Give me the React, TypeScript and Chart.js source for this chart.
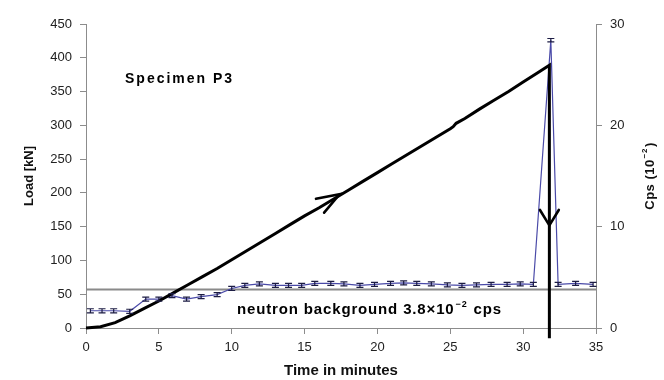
import { useEffect, useRef } from "react";
import { Chart, registerables } from "chart.js";

Chart.register(...registerables);

// ---- Data ----
const loadTime = [0, 1, 2, 3, 4, 5, 6, 7, 8, 9, 10, 11, 12, 13, 14, 15, 16, 17, 18, 19, 20, 21, 22, 23, 24, 25, 25.2, 25.4, 26, 27, 28, 29, 30, 31, 31.8, 31.8, 31.8];
const loadKN = [0, 2, 8, 18, 29, 40, 52, 64, 76, 88, 101, 114, 127, 140, 153, 166, 178, 191, 204, 217, 230, 243, 256, 269, 282, 295, 298, 303, 310, 324, 337, 350, 364, 378, 389, 0, -15];

const cpsTime = [0.3, 1.1, 1.9, 3.0, 4.1, 5.0, 5.9, 6.9, 7.9, 9.0, 10.0, 10.9, 11.9, 13.0, 13.9, 14.8, 15.7, 16.8, 17.7, 18.8, 19.8, 20.9, 21.8, 22.7, 23.7, 24.8, 25.8, 26.8, 27.8, 28.9, 29.8, 30.7, 31.9, 32.4, 33.6, 34.8];
const cpsValue = [1.7, 1.7, 1.7, 1.65, 2.85, 2.85, 3.2, 2.85, 3.1, 3.3, 3.9, 4.2, 4.35, 4.2, 4.2, 4.2, 4.4, 4.4, 4.35, 4.2, 4.3, 4.4, 4.45, 4.4, 4.35, 4.25, 4.2, 4.25, 4.3, 4.3, 4.35, 4.3, 28.4, 4.3, 4.4, 4.3];
const cpsError = [0.2, 0.2, 0.2, 0.2, 0.2, 0.2, 0.2, 0.2, 0.2, 0.2, 0.2, 0.2, 0.2, 0.2, 0.2, 0.2, 0.2, 0.2, 0.2, 0.2, 0.2, 0.2, 0.2, 0.2, 0.2, 0.2, 0.2, 0.2, 0.2, 0.2, 0.2, 0.2, 0.17, 0.2, 0.2, 0.2];

const backgroundCps = 3.8;
const backgroundSpan = [0, 35];

// arrow heads: [tailTime, tailLoad, tipTime, tipLoad]
const arrowUp = [16.3, 184, 17.4, 198];
const arrowDown = [31.8, 180, 31.8, 152];

const xTickValues = [0, 5, 10, 15, 20, 25, 30, 35];
const yTickValues = [0, 50, 100, 150, 200, 250, 300, 350, 400, 450];
const y2TickValues = [0, 10, 20, 30];

const FONT = '"Liberation Sans", Arial, sans-serif';

const overlayPlugin = {
  id: "overlay",
  afterDatasetsDraw(chart: any) {
    const { ctx, scales } = chart;
    const sx = scales.x, sy = scales.y, sy2 = scales.y2;
    ctx.save();
    // error bars
    ctx.strokeStyle = "#1c1c44";
    ctx.lineWidth = 1.2;
    cpsTime.forEach((t, i) => {
      const px = sx.getPixelForValue(t);
      const top = sy2.getPixelForValue(cpsValue[i] + cpsError[i]);
      const bot = sy2.getPixelForValue(cpsValue[i] - cpsError[i]);
      ctx.beginPath();
      ctx.moveTo(px, top);
      ctx.lineTo(px, bot);
      ctx.moveTo(px - 3.5, top);
      ctx.lineTo(px + 3.5, top);
      ctx.moveTo(px - 3.5, bot);
      ctx.lineTo(px + 3.5, bot);
      ctx.stroke();
    });
    // arrow heads
    ctx.strokeStyle = "#000";
    ctx.lineWidth = 2.6;
    ctx.lineCap = "round";
    const drawArrow = (a: number[], half: number, len: number) => {
      const x0 = sx.getPixelForValue(a[0]), y0 = sy.getPixelForValue(a[1]);
      const x1 = sx.getPixelForValue(a[2]), y1 = sy.getPixelForValue(a[3]);
      const ang = Math.atan2(y0 - y1, x0 - x1);
      ctx.beginPath();
      ctx.moveTo(x1 + len * Math.cos(ang - half), y1 + len * Math.sin(ang - half));
      ctx.lineTo(x1, y1);
      ctx.lineTo(x1 + len * Math.cos(ang + half), y1 + len * Math.sin(ang + half));
      ctx.stroke();
    };
    drawArrow(arrowUp, 0.34, 24);
    drawArrow(arrowDown, 0.55, 18);

    // texts
    ctx.fillStyle = "#000";
    ctx.textBaseline = "middle";
    ctx.textAlign = "left";
    ctx.font = `bold 14px ${FONT}`;
    (ctx as any).letterSpacing = "2px";
    ctx.fillText("Specimen P3", 125, 79);
    (ctx as any).letterSpacing = "0.85px";
    ctx.font = `bold 15px ${FONT}`;
    let x = 237;
    const yb = 310;
    const p1 = "neutron background 3.8\u00d710";
    ctx.fillText(p1, x, yb);
    x += ctx.measureText(p1).width;
    ctx.font = `bold 9px ${FONT}`;
    ctx.fillText("\u22122", x + 1, yb - 5);
    x += ctx.measureText("\u22122").width + 2;
    ctx.font = `bold 15px ${FONT}`;
    ctx.fillText(" cps", x, yb);

    // right axis title, reading bottom-to-top
    (ctx as any).letterSpacing = "0.5px";
    ctx.translate(650, 176);
    ctx.rotate(-Math.PI / 2);
    ctx.font = `bold 13px ${FONT}`;
    const t1 = "Cps (10";
    const t2 = "\u22122";
    const t3 = ")";
    ctx.font = `bold 13px ${FONT}`;
    const w1 = ctx.measureText(t1).width;
    const w3 = ctx.measureText(t3).width;
    ctx.font = `bold 8px ${FONT}`;
    const w2 = ctx.measureText(t2).width;
    let cx = -(w1 + w2 + w3 + 2) / 2;
    ctx.fillStyle = "#111";
    ctx.font = `bold 13px ${FONT}`;
    ctx.fillText(t1, cx, 0);
    cx += w1 + 1;
    ctx.font = `bold 8px ${FONT}`;
    ctx.fillText(t2, cx, -5);
    cx += w2 + 1;
    ctx.font = `bold 13px ${FONT}`;
    ctx.fillText(t3, cx, 0);
    ctx.restore();
  },
};

export default function App() {
  const ref = useRef<HTMLCanvasElement>(null);
  useEffect(() => {
    const canvas = ref.current;
    if (!canvas) return;
    const setTicks = (vals: number[]) => (scale: any) => {
      scale.ticks = vals.map((v) => ({ value: v }));
    };
    const chart = new Chart(canvas, {
      type: "scatter",
      data: {
        datasets: [
          {
            label: "Load",
            data: loadTime.map((t, i) => ({ x: t, y: loadKN[i] })),
            yAxisID: "y",
            showLine: true,
            borderColor: "#000",
            borderWidth: 3,
            pointRadius: 0,
            clip: false as any,
            order: 0,
          },
          {
            label: "Cps",
            data: cpsTime.map((t, i) => ({ x: t, y: cpsValue[i] })),
            yAxisID: "y2",
            showLine: true,
            borderColor: "#4a4aa8",
            borderWidth: 1.2,
            pointRadius: 0,
            order: 1,
          },
          {
            label: "Background",
            data: backgroundSpan.map((t) => ({ x: t, y: backgroundCps })),
            yAxisID: "y2",
            showLine: true,
            borderColor: "#8a8a8a",
            borderWidth: 2,
            pointRadius: 0,
            order: 2,
          },
        ],
      },
      options: {
        animation: false,
        responsive: false,
        maintainAspectRatio: false,
        layout: { padding: { left: 18, right: 2, top: 24, bottom: 0 } },
        plugins: { legend: { display: false }, tooltip: { enabled: false } },
        scales: {
          x: {
            type: "linear",
            min: 0,
            max: 35,
            afterBuildTicks: setTicks(xTickValues),
            afterFit: (s: any) => { s.height = 52; },
            grid: { drawOnChartArea: false, drawTicks: true, tickLength: 6, color: "#8c8c8c" },
            border: { display: true, color: "#8c8c8c", width: 1 },
            ticks: { color: "#222", font: { family: FONT, size: 13 }, padding: 6, maxRotation: 0 },
            title: { display: true, text: "Time in minutes", color: "#111", font: { family: FONT, size: 15, weight: "bold" }, padding: { top: 2, bottom: 0 } },
          },
          y: {
            type: "linear",
            position: "left",
            min: 0,
            max: 450,
            afterBuildTicks: setTicks(yTickValues),
            afterFit: (s: any) => { s.width = 68; },
            grid: { drawOnChartArea: false, drawTicks: true, tickLength: 6, color: "#8c8c8c" },
            border: { display: true, color: "#8c8c8c", width: 1 },
            ticks: { color: "#222", font: { family: FONT, size: 13 }, padding: 8 },
            title: { display: true, text: "Load [kN]", color: "#111", font: { family: FONT, size: 13, weight: "bold" }, padding: 4 },
          },
          y2: {
            type: "linear",
            position: "right",
            min: 0,
            max: 30,
            afterBuildTicks: setTicks(y2TickValues),
            afterFit: (s: any) => { s.width = 66; },
            grid: { drawOnChartArea: false, drawTicks: true, tickLength: 6, color: "#8c8c8c" },
            border: { display: true, color: "#8c8c8c", width: 1 },
            ticks: { color: "#222", font: { family: FONT, size: 13 }, padding: 8 },
            title: { display: false },
          },
        },
      },
      plugins: [overlayPlugin],
    } as any);
    return () => chart.destroy();
  }, []);
  return (
    <div style={{ position: "absolute", left: 0, top: 0, width: 664, height: 380, background: "#fff" }}>
      <canvas ref={ref} width={664} height={380} style={{ display: "block" }} />
    </div>
  );
}
